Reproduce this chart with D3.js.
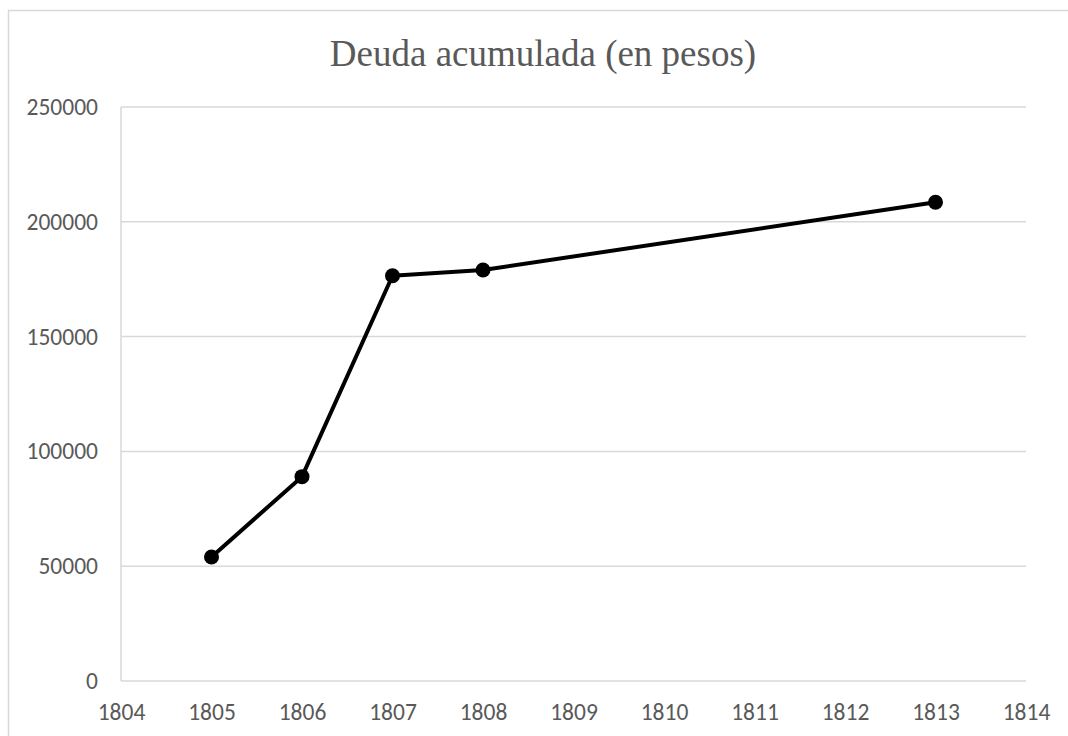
<!DOCTYPE html>
<html>
<head>
<meta charset="utf-8">
<script src="https://d3js.org/d3.v7.min.js"></script>
<style>
  html, body { margin: 0; padding: 0; background: #fff; }
  svg { display: block; }
</style>
</head>
<body>
<div id="chart"></div>
<script>
// datos
const years = [1805, 1806, 1807, 1808, 1813];
const debt = [54000, 89000, 176500, 179000, 208500];
const xTicks = [1804, 1805, 1806, 1807, 1808, 1809, 1810, 1811, 1812, 1813, 1814];
const yTicks = [0, 50000, 100000, 150000, 200000, 250000];
const title = 'Deuda acumulada (en pesos)';

const width = 1068, height = 736;
const margin = { top: 107, right: 42, bottom: 55, left: 121 };
const innerW = width - margin.left - margin.right;
const innerH = height - margin.top - margin.bottom;

const svg = d3.select('#chart').append('svg')
    .attr('width', width)
    .attr('height', height);

// marco del gráfico
svg.append('rect')
    .attr('x', 8.5).attr('y', 10.5)
    .attr('width', width).attr('height', height)
    .attr('fill', 'none')
    .attr('stroke', '#d9d9d9')
    .attr('stroke-width', 1.5);

svg.append('text')
    .attr('x', 543)
    .attr('y', 66)
    .attr('text-anchor', 'middle')
    .attr('fill', '#595959')
    .style('font-family', '"Liberation Serif", "Times New Roman", serif')
    .style('font-size', '37px')
    .text(title);

const g = svg.append('g').attr('transform', `translate(${margin.left},${margin.top})`);

const x = d3.scaleLinear().domain([1804, 1814]).range([0, innerW]);
const y = d3.scaleLinear().domain([0, 250000]).range([innerH, 0]);

// líneas de cuadrícula
g.append('g')
    .selectAll('line')
    .data(yTicks)
    .enter()
    .append('line')
    .attr('x1', 0).attr('x2', innerW)
    .attr('y1', d => y(d)).attr('y2', d => y(d))
    .attr('stroke', '#d9d9d9')
    .attr('stroke-width', 1.5);

// eje vertical (línea en x = 1804)
g.append('line')
    .attr('x1', x(1804)).attr('x2', x(1804))
    .attr('y1', 0).attr('y2', innerH)
    .attr('stroke', '#d9d9d9')
    .attr('stroke-width', 1.5);

const labelFont = 'Carlito, Lato, "Liberation Sans", sans-serif';

const yAxis = g.append('g')
    .call(d3.axisLeft(y).tickValues(yTicks).tickFormat(d3.format('d')).tickSize(0).tickPadding(23));
yAxis.select('.domain').remove();
yAxis.selectAll('text')
    .attr('fill', '#595959')
    .style('font-family', labelFont)
    .style('font-size', '23.5px');

const xAxis = g.append('g')
    .attr('transform', `translate(0,${innerH})`)
    .call(d3.axisBottom(x).tickValues(xTicks).tickFormat(d3.format('d')).tickSize(0).tickPadding(22));
xAxis.select('.domain').remove();
xAxis.selectAll('text')
    .attr('fill', '#595959')
    .style('font-family', labelFont)
    .style('font-size', '23.5px');

const data = years.map((yr, i) => ({ year: yr, value: debt[i] }));

g.append('path')
    .datum(data)
    .attr('fill', 'none')
    .attr('stroke', '#000')
    .attr('stroke-width', 4)
    .attr('stroke-linejoin', 'round')
    .attr('d', d3.line().x(d => x(d.year)).y(d => y(d.value)));

g.selectAll('.dot')
    .data(data)
    .enter()
    .append('circle')
    .attr('cx', d => x(d.year))
    .attr('cy', d => y(d.value))
    .attr('r', 7.5)
    .attr('fill', '#000');
</script>
</body>
</html>
